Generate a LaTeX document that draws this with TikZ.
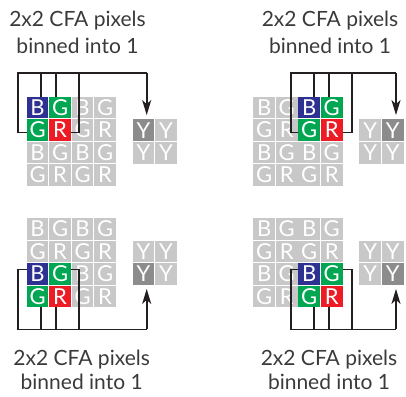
\documentclass[tikz,border=0pt]{standalone}
\usepackage{fontspec}
\setmainfont{Lato}
\usetikzlibrary{arrows.meta,calc}
\definecolor{cfaB}{HTML}{2E3192}
\definecolor{cfaG}{HTML}{00A651}
\definecolor{cfaR}{HTML}{ED1C24}
\definecolor{cellgray}{HTML}{C8C8C8}
\definecolor{ydark}{HTML}{8C8C8C}
\definecolor{txtgray}{HTML}{3A3A3A}
\definecolor{wirecol}{HTML}{231F20}
\tikzset{
  cell/.style={minimum size=21.7pt, inner sep=0pt, fill=cellgray, text=white,
    font=\fontsize{22}{22}\selectfont},
  wirel/.style={draw=wirecol, line width=1.6pt},
  arrowl/.style={wirel, -{Stealth[length=15pt,width=9pt,inset=4pt]}},
  caption/.style={text=txtgray, font=\fontsize{21}{26}\selectfont, anchor=base, inner sep=0pt}
}
% #1 name, #2 x0, #3 y0, #4 first coloured row, #5 first coloured column
\newcommand\cfagrid[5]{%
  \foreach \r in {1,...,4}{\foreach \c in {1,...,4}{%
    \ifodd\r\relax
      \ifodd\c\relax\def\cellL{B}\else\def\cellL{G}\fi
    \else
      \ifodd\c\relax\def\cellL{G}\else\def\cellL{R}\fi
    \fi
    \def\cellF{cellgray}%
    \ifnum\r<#4\relax\else\ifnum\r>\numexpr#4+1\relax\else
      \ifnum\c<#5\relax\else\ifnum\c>\numexpr#5+1\relax\else
        \edef\cellF{cfa\cellL}%
      \fi\fi\fi\fi
    \node[cell, fill=\cellF] (#1-\r-\c) at ({#2+10.85+(\c-1)*22.5},{#3+10.85+(\r-1)*22.5}) {\cellL};
  }}%
}
% #1 name, #2 x0, #3 y0, #4 dark row, #5 dark column
\newcommand\ygrid[5]{%
  \foreach \r in {1,2}{\foreach \c in {1,2}{%
    \def\cellF{cellgray}%
    \ifnum\r=#4\relax\ifnum\c=#5\relax\def\cellF{ydark}\fi\fi
    \node[cell, fill=\cellF] (#1-\r-\c) at ({#2+10.85+(\c-1)*22.5},{#3+10.85+(\r-1)*22.5}) {Y};
  }}%
}
\begin{document}
\begin{tikzpicture}[x=1pt,y=-1pt]
\useasboundingbox (0,0) rectangle (406,396);

% ---------- grids ----------
\cfagrid{tl}{26.7}{96.7}{1}{1}
\ygrid{tly}{132.7}{119.3}{1}{1}
\cfagrid{tr}{253.3}{96.7}{1}{3}
\ygrid{try}{359.3}{119.3}{1}{2}
\cfagrid{bl}{26.7}{218}{3}{1}
\ygrid{bly}{132.7}{240.5}{2}{1}
\cfagrid{br}{253.3}{218}{3}{3}
\ygrid{bry}{359.3}{240.5}{2}{2}

% ---------- top-left wiring ----------
\coordinate (tlA) at (18,132.5);
\coordinate (tlB) at (18,72.7);
\coordinate (tlI) at (40.7,72.7);
\coordinate (tlJ) at (56,72.7);
\coordinate (tlD) at (79,72.7);
\coordinate (tlC) at (146.7,72.7);
\draw[wirel] (tl-2-1.west |- tlA) -- (tlA) -- (tlB) -- (tlC);
\draw[wirel] (tlI) -- (tlI |- tl-1-1.north);
\draw[wirel] (tlJ) -- (tlJ |- tl-1-1.north);
\draw[wirel] (tlD) -- (tlD |- tlA) -- (tl-2-2.east |- tlA);
\draw[arrowl, shorten >=4pt] (tlC) -- (tlC |- tly-1-1.north);

% ---------- top-right wiring ----------
\coordinate (trA) at (290.7,132.5);
\coordinate (trB) at (290.7,72.7);
\coordinate (trI) at (314,72.7);
\coordinate (trJ) at (328.7,72.7);
\coordinate (trD) at (351.7,72.7);
\coordinate (trC) at (396,72.7);
\draw[wirel] (tr-2-3.west |- trA) -- (trA) -- (trB) -- (trC);
\draw[wirel] (trI) -- (trI |- tr-1-3.north);
\draw[wirel] (trJ) -- (trJ |- tr-1-3.north);
\draw[wirel] (trD) -- (trD |- trA) -- (tr-2-4.east |- trA);
\draw[arrowl, shorten >=4pt] (trC) -- (trC |- try-1-2.north);

% ---------- bottom-left wiring ----------
\coordinate (blA) at (18,269.3);
\coordinate (blB) at (18,329.3);
\coordinate (blI) at (40.7,329.3);
\coordinate (blJ) at (56,329.3);
\coordinate (blD) at (79,329.3);
\coordinate (blC) at (146.7,329.3);
\draw[wirel] (bl-3-1.west |- blA) -- (blA) -- (blB) -- (blC);
\draw[wirel] (blI) -- (blI |- bl-4-1.south);
\draw[wirel] (blJ) -- (blJ |- bl-4-1.south);
\draw[wirel] (blD) -- (blD |- blA) -- (bl-3-2.east |- blA);
\draw[arrowl, shorten >=4pt] (blC) -- (blC |- bly-2-1.south);

% ---------- bottom-right wiring ----------
\coordinate (brA) at (290.7,269.3);
\coordinate (brB) at (290.7,329.3);
\coordinate (brI) at (314,329.3);
\coordinate (brJ) at (328.7,329.3);
\coordinate (brD) at (351.7,329.3);
\coordinate (brC) at (396,329.3);
\draw[wirel] (br-3-3.west |- brA) -- (brA) -- (brB) -- (brC);
\draw[wirel] (brI) -- (brI |- br-4-3.south);
\draw[wirel] (brJ) -- (brJ |- br-4-3.south);
\draw[wirel] (brD) -- (brD |- brA) -- (br-3-4.east |- brA);
\draw[arrowl, shorten >=4pt] (brC) -- (brC |- bry-2-2.south);

% ---------- captions ----------
\node[caption] (captl1) at (77.5,27) {2x2 CFA pixels};
\node[caption] (captl2) at (77.5,53) {binned into 1};
\node[caption] (captr1) at (330,27) {2x2 CFA pixels};
\node[caption] (captr2) at (330,53) {binned into 1};
\node[caption] (capbl1) at (81.7,365) {2x2 CFA pixels};
\node[caption] (capbl2) at (81.7,389.5) {binned into 1};
\node[caption] (capbr1) at (329,365) {2x2 CFA pixels};
\node[caption] (capbr2) at (329,389.5) {binned into 1};
\end{tikzpicture}
\end{document}
